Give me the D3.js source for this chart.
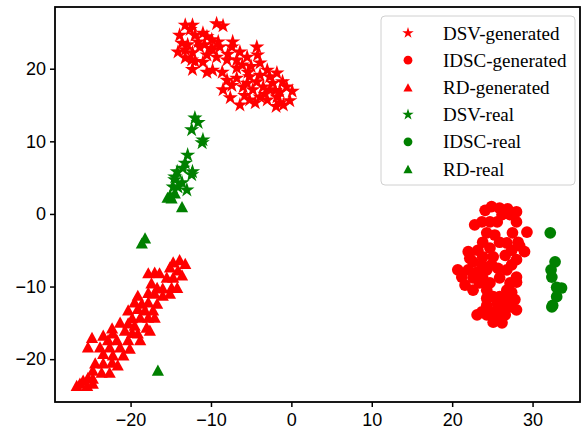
<!DOCTYPE html>
<html>
<head>
<meta charset="utf-8">
<script src="https://cdn.jsdelivr.net/npm/d3@7"></script>
<style>
  html, body { margin: 0; padding: 0; background: #fff; }
  svg { display: block; }
</style>
</head>
<body>
<svg id="chart" width="582" height="434"></svg>
<script>
// ---- data (t-SNE coordinates) ----
const seriesNames = ["DSV-generated", "IDSC-generated", "RD-generated", "DSV-real", "IDSC-real", "RD-real"];
const xTicks = [-20, -10, 0, 10, 20, 30];
const yTicks = [-20, -10, 0, 10, 20];

const dsvGenerated = [
  [-13.2,26.0],[-12.3,26.0],[-9.3,26.2],[-8.5,25.9],[-11.0,24.9],[-12.0,24.6],[-10.5,24.4],
  [-13.6,23.5],[-12.9,23.3],[-11.6,23.7],[-13.2,22.6],[-12.3,22.2],[-9.1,23.7],[-8.9,23.0],
  [-7.3,23.7],[-7.4,23.0],[-9.8,22.6],[-6.4,22.3],[-4.3,23.0],[-13.2,21.5],[-12.4,21.2],
  [-10.5,21.9],[-9.3,21.6],[-8.0,21.2],[-6.8,21.2],[-5.5,21.6],[-4.2,21.9],[-12.3,19.9],
  [-10.5,19.5],[-9.8,19.8],[-8.6,19.5],[-6.8,20.1],[-5.4,19.5],[-3.9,20.8],[-3.0,19.8],
  [-8.0,18.4],[-6.8,18.7],[-5.2,18.9],[-3.9,19.1],[-2.7,18.9],[-1.8,19.4],[-8.5,17.1],
  [-7.4,17.7],[-5.5,18.0],[-4.3,18.2],[-3.5,17.5],[-2.3,18.0],[-1.1,18.2],[-0.6,17.5],
  [-7.6,16.0],[-6.4,15.0],[-5.2,15.7],[-3.9,16.1],[-3.0,15.7],[-1.8,16.1],[-1.4,15.3],
  [0.1,16.9],[-0.2,15.6],[-13.9,24.6],[-11.4,23.0],[-14.1,22.3],[-11.0,20.9],[-9.9,24.0],
  [-6.1,20.5],[-4.8,17.1],[-2.7,17.1],[-1.4,16.8],[-1.0,15.0],[-4.5,15.3],[-5.8,16.3],
  [-1.9,14.8],[-12.6,25.4],[-10.0,22.8],[-7.9,22.0],[-5.0,20.3],[-2.0,17.0],[-3.3,16.5],
  [-6.0,17.5],[-10.8,23.3],[-12.0,21.0]
];
const idscGenerated = [
  [24.1,0.5],[24.9,1.0],[25.9,0.8],[26.9,0.7],[28.0,0.3],[22.8,-1.5],[23.7,-1.1],[24.7,-1.1],
  [25.6,-1.1],[28.0,-1.1],[29.3,-2.5],[27.5,-2.6],[24.3,-2.6],[25.3,-2.9],[23.8,-3.9],
  [25.9,-3.9],[28.2,-3.9],[26.8,-4.0],[23.2,-5.0],[24.7,-4.7],[27.4,-5.0],[29.0,-5.2],
  [22.0,-5.2],[22.2,-6.1],[23.8,-5.9],[25.1,-5.9],[26.6,-5.7],[28.0,-6.3],[23.7,-7.0],
  [24.9,-7.0],[27.4,-7.0],[22.0,-7.7],[23.1,-8.0],[25.7,-7.5],[26.8,-7.7],[24.3,-7.7],
  [21.2,-8.7],[22.6,-8.8],[28.0,-8.7],[25.9,-8.8],[23.8,-8.8],[21.6,-9.8],[23.4,-9.5],
  [24.7,-9.5],[27.2,-9.5],[28.0,-9.4],[22.6,-10.5],[24.3,-10.5],[26.8,-10.5],[27.4,-10.8],
  [25.1,-11.4],[24.3,-11.6],[25.9,-11.4],[26.8,-11.6],[24.3,-12.6],[25.6,-12.3],[26.8,-12.3],
  [27.4,-12.8],[23.7,-13.5],[25.1,-13.5],[26.3,-13.2],[28.0,-13.2],[23.1,-13.9],[24.3,-13.9],
  [25.6,-14.2],[26.6,-13.9],[25.1,-14.9],[26.2,-15.0],[27.2,-0.1],[26.2,-0.1],[28.4,-4.4],
  [22.6,-6.6],[20.7,-7.7],[27.8,-11.8]
];
const rdGenerated = [
  [-14.7,-6.6],[-13.9,-6.3],[-13.2,-6.8],[-15.1,-7.3],[-14.1,-7.7],[-13.6,-8.4],[-17.8,-8.1],
  [-17.0,-8.0],[-16.4,-8.1],[-15.5,-8.7],[-14.7,-8.7],[-17.4,-9.5],[-16.7,-10.1],[-16.0,-10.2],
  [-14.9,-10.1],[-14.2,-10.1],[-17.8,-10.8],[-17.0,-10.9],[-15.1,-10.9],[-16.0,-11.2],
  [-19.1,-11.2],[-19.5,-12.1],[-18.6,-12.3],[-17.8,-12.1],[-16.7,-12.3],[-20.3,-13.2],
  [-19.1,-13.0],[-18.2,-13.2],[-17.2,-13.2],[-19.8,-14.3],[-18.8,-14.2],[-17.8,-14.2],
  [-17.0,-14.2],[-21.3,-14.9],[-20.3,-15.0],[-19.5,-15.3],[-18.0,-15.6],[-22.3,-15.7],
  [-20.7,-16.0],[-19.8,-16.3],[-19.1,-16.4],[-17.6,-16.0],[-23.4,-16.7],[-22.2,-16.4],
  [-24.8,-17.0],[-22.8,-17.3],[-21.7,-17.3],[-20.3,-17.3],[-18.8,-17.3],[-25.3,-18.3],
  [-23.8,-18.3],[-22.6,-18.3],[-21.3,-18.3],[-20.1,-18.5],[-23.4,-19.2],[-22.2,-19.4],
  [-20.9,-19.4],[-24.4,-20.5],[-23.4,-20.5],[-22.3,-20.4],[-21.6,-20.8],[-24.7,-21.5],
  [-23.6,-21.8],[-22.6,-21.8],[-25.3,-22.5],[-24.7,-22.6],[-25.9,-22.9],[-26.3,-23.3],
  [-25.4,-23.6],[-24.7,-23.3],[-26.7,-23.6]
];
const dsvReal = [
  [-12.0,13.2],[-11.6,12.6],[-12.4,11.6],[-11.0,10.2],[-11.1,9.8],[-12.9,8.1],[-13.2,7.0],
  [-13.5,6.3],[-14.2,5.8],[-12.3,5.8],[-12.4,5.4],[-14.5,4.7],[-13.6,4.3],[-13.0,3.3],
  [-14.1,3.7],[-14.7,3.7],[-14.5,5.1]
];
const idscReal = [
  [32.2,-2.6],[32.8,-6.6],[32.3,-7.7],[32.4,-8.7],[33.0,-10.1],[33.6,-10.2],[33.0,-11.4],
  [32.5,-12.6],[32.4,-12.8]
];
const rdReal = [
  [-15.1,2.6],[-14.5,2.9],[-14.9,2.2],[-13.6,1.0],[-18.6,-4.0],[-18.2,-3.3],[-16.6,-21.5],[-15.4,2.3]
];

const seriesData = [dsvGenerated, idscGenerated, rdGenerated, dsvReal, idscReal, rdReal];
const seriesColors = ["#ff0000", "#ff0000", "#ff0000", "#008000", "#008000", "#008000"];
const seriesShapes = ["star", "circle", "triangle", "star", "circle", "triangle"];

// ---- layout ----
const svg = d3.select("#chart");
const mLeft = 55, mRight = 580, mTop = 7, mBottom = 402;
const x = d3.scaleLinear().domain([-29.4, 35.9]).range([mLeft, mRight]);
const y = d3.scaleLinear().domain([-25.9, 28.5]).range([mBottom, mTop]);

function shapePath(shape, scale) {
  const k = scale || 1;
  if (shape === "star") return d3.symbol(d3.symbolStar, 72 * k * k)();
  if (shape === "circle") return d3.symbol(d3.symbolCircle, 108 * k * k)();
  const h = 5.6 * k, w = 6.1 * k;
  return `M0,${-h}L${w},${h}L${-w},${h}Z`;
}

const plot = svg.append("g");
seriesData.forEach((pts, i) => {
  const p = shapePath(seriesShapes[i]);
  plot.append("g").selectAll("path").data(pts).join("path")
    .attr("d", p)
    .attr("transform", d => `translate(${x(d[0])},${y(d[1])})`)
    .attr("fill", seriesColors[i]);
});

// axes
const tickFont = "'Liberation Sans', Arial, sans-serif";
const fmt = d => (d < 0 ? "\u2212" + Math.abs(d) : String(d));
const gx = svg.append("g").attr("transform", `translate(0,${mBottom})`)
  .call(d3.axisBottom(x).tickValues(xTicks).tickFormat(fmt).tickSize(5).tickSizeOuter(0).tickPadding(6));
const gy = svg.append("g").attr("transform", `translate(${mLeft},0)`)
  .call(d3.axisLeft(y).tickValues(yTicks).tickFormat(fmt).tickSize(5).tickSizeOuter(0).tickPadding(4));
[gx, gy].forEach(g => {
  g.select(".domain").remove();
  g.selectAll(".tick line").attr("stroke", "#000").attr("stroke-width", 1.5);
  g.selectAll(".tick text").attr("fill", "#000").style("font-family", tickFont).style("font-size", "18px");
});

// frame
svg.append("rect").attr("x", mLeft).attr("y", mTop).attr("width", mRight - mLeft).attr("height", mBottom - mTop)
  .attr("fill", "none").attr("stroke", "#000").attr("stroke-width", 1.8);

// legend
const lg = svg.append("g");
lg.append("rect").attr("x", 381).attr("y", 16).attr("width", 194).attr("height", 169).attr("rx", 4)
  .attr("fill", "#fff").attr("fill-opacity", 0.8).attr("stroke", "#d0d0d0").attr("stroke-width", 1);
seriesNames.forEach((name, i) => {
  const cy = 33 + i * 27.2;
  lg.append("path").attr("d", shapePath(seriesShapes[i], 0.75))
    .attr("transform", `translate(408,${cy})`).attr("fill", seriesColors[i]);
  lg.append("text").attr("x", 443).attr("y", cy).attr("dy", "0.35em")
    .style("font-family", "'Liberation Serif', 'Times New Roman', serif").style("font-size", "19px")
    .attr("fill", "#000").text(name);
});
</script>
</body>
</html>
